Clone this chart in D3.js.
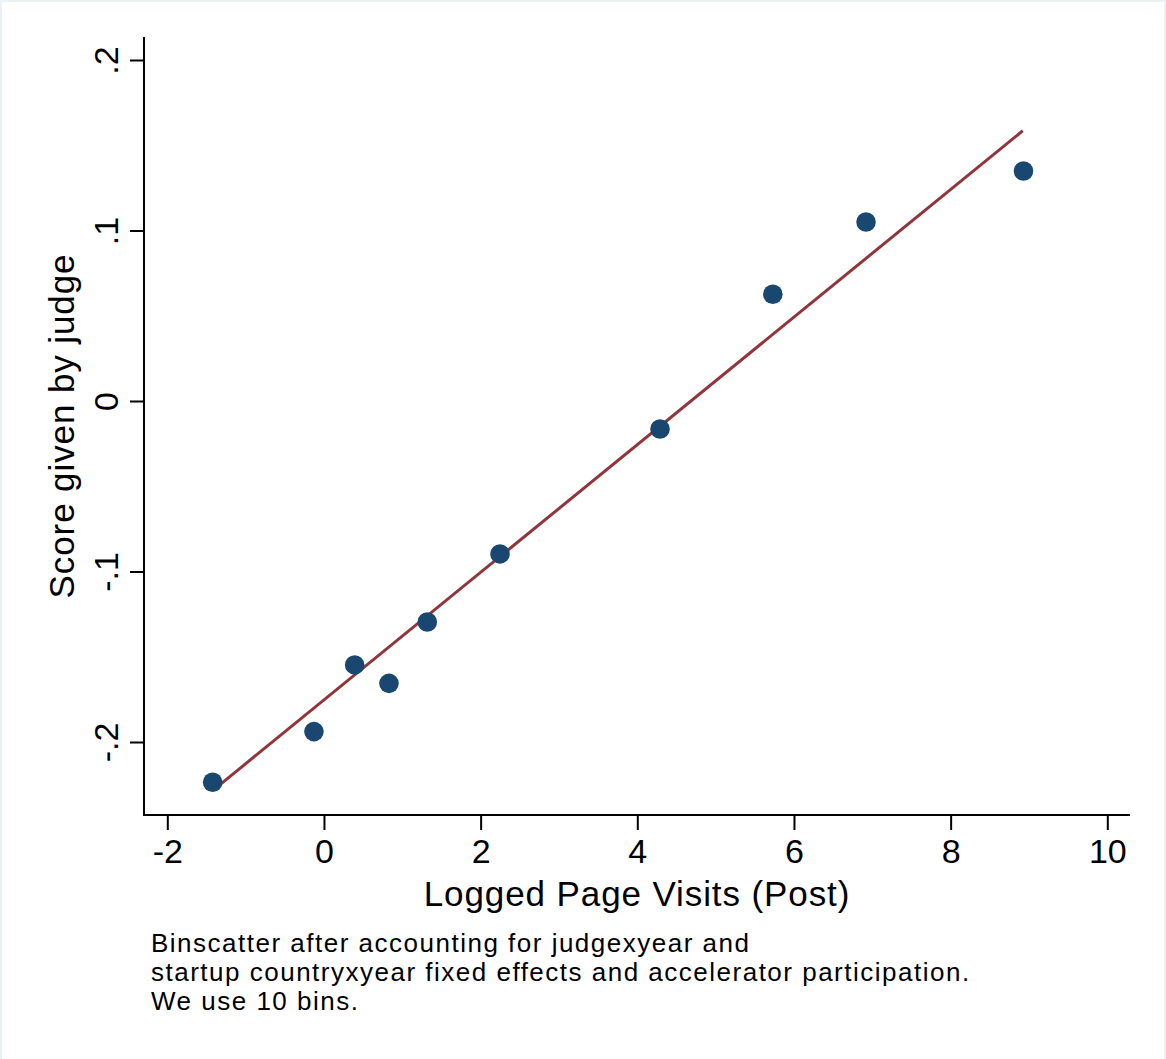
<!DOCTYPE html>
<html>
<head>
<meta charset="utf-8">
<script src="https://cdn.jsdelivr.net/npm/d3@7"></script>
<style>
  html, body { margin: 0; padding: 0; background: #fff; }
  body { width: 1166px; height: 1059px; overflow: hidden; }
  #frame { position: absolute; left: 0; top: 0; width: 1162px; height: 1057px;
           border-left: 2px solid #eaf2f5; border-top: 2px solid #eaf2f5; border-right: 2px solid #eef4f6; }
  svg { position: absolute; left: 0; top: 0; font-family: "Liberation Sans", Arial, Helvetica, sans-serif; }
</style>
</head>
<body>
<div id="frame"></div>
<svg id="chart" width="1166" height="1059"></svg>
<script>
  // binned means
  const binX = [-1.421, -0.128, 0.392, 0.830, 1.319, 2.247, 4.29, 5.73, 6.92, 8.93];
  const binY = [-0.2236, -0.1939, -0.1548, -0.1656, -0.1296, -0.0897, -0.0164, 0.0626, 0.1050, 0.1349];

  // fitted line endpoints
  const fitX = [-1.413, 8.92];
  const fitY = [-0.2282, 0.1585];

  const xTicks = [-2, 0, 2, 4, 6, 8, 10];
  const yTicks = [-0.2, -0.1, 0, 0.1, 0.2];
  const yTickLabels = ["-.2", "-.1", "0", ".1", ".2"];

  const note = [
    "Binscatter after accounting for judgexyear and",
    "startup countryxyear fixed effects and accelerator participation.",
    "We use 10 bins."
  ];

  const svg = d3.select("#chart");

  // plot region
  const plot = { left: 144, right: 1130, top: 37, bottom: 815 };

  const x = d3.scaleLinear().domain([-2, 10]).range([167.3, 1107.3]);
  const y = d3.scaleLinear().domain([-0.2, 0.2]).range([742, 60]);

  // axis lines
  svg.append("line")
    .attr("x1", plot.left).attr("x2", plot.left)
    .attr("y1", plot.top).attr("y2", plot.bottom + 1)
    .attr("stroke", "#000").attr("stroke-width", 2);
  svg.append("line")
    .attr("x1", plot.left - 1).attr("x2", plot.right)
    .attr("y1", plot.bottom).attr("y2", plot.bottom)
    .attr("stroke", "#000").attr("stroke-width", 2);

  // X axis
  const gx = svg.append("g").attr("transform", `translate(0,${plot.bottom})`)
    .call(d3.axisBottom(x).tickValues(xTicks).tickSize(15).tickPadding(6).tickFormat(d => String(d)));
  gx.select(".domain").remove();
  gx.selectAll(".tick line").attr("stroke", "#000").attr("stroke-width", 2);
  gx.selectAll("text").attr("fill", "#000").attr("font-size", 34)
    .attr("font-family", "Liberation Sans, Arial, sans-serif").attr("dy", "0.78em");

  // Y axis
  const gy = svg.append("g").attr("transform", `translate(${plot.left},0)`)
    .call(d3.axisLeft(y).tickValues(yTicks).tickSize(14).tickFormat((d, i) => yTickLabels[i]));
  gy.select(".domain").remove();
  gy.selectAll(".tick line").attr("stroke", "#000").attr("stroke-width", 2);
  gy.selectAll("text")
    .attr("fill", "#000").attr("font-size", 34)
    .attr("font-family", "Liberation Sans, Arial, sans-serif")
    .attr("x", 0).attr("y", 0).attr("dy", 0)
    .attr("text-anchor", "middle")
    .attr("transform", "translate(-26,0) rotate(-90)");

  // axis titles
  svg.append("text")
    .attr("x", 637).attr("y", 906)
    .attr("text-anchor", "middle").attr("font-size", 35).attr("letter-spacing", 0.9)
    .attr("fill", "#000")
    .text("Logged Page Visits (Post)");
  svg.append("text")
    .attr("transform", `translate(74,${y(0) + 25}) rotate(-90)`)
    .attr("text-anchor", "middle").attr("font-size", 35).attr("letter-spacing", 0.9)
    .attr("fill", "#000")
    .text("Score given by judge");

  // fitted line
  svg.append("line")
    .attr("x1", x(fitX[0])).attr("y1", y(fitY[0]))
    .attr("x2", x(fitX[1])).attr("y2", y(fitY[1]))
    .attr("stroke", "#90353b").attr("stroke-width", 3);

  // bin points
  svg.selectAll(".pt")
    .data(binX.map((v, i) => [v, binY[i]]))
    .enter().append("circle")
    .attr("class", "pt")
    .attr("cx", d => x(d[0])).attr("cy", d => y(d[1]))
    .attr("r", 9.8)
    .attr("fill", "#1a476f");

  // note
  svg.append("g").selectAll("text")
    .data(note)
    .enter().append("text")
    .attr("x", 151).attr("y", (d, i) => 952 + i * 29)
    .attr("font-size", 26).attr("letter-spacing", 1.5).attr("fill", "#000")
    .text(d => d);
</script>
</body>
</html>
